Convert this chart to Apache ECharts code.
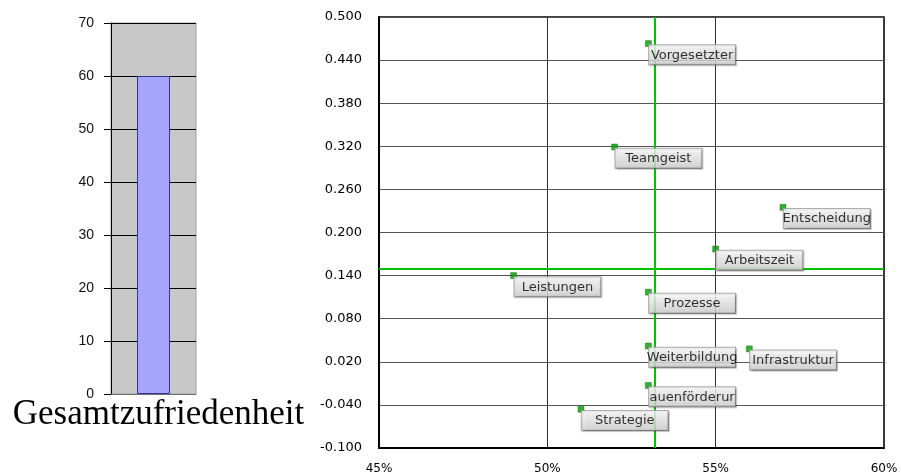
<!DOCTYPE html>
<html>
<head>
<meta charset="utf-8">
<script src="https://cdn.jsdelivr.net/npm/echarts@6/dist/echarts.min.js"></script>
<style>
  html, body { margin: 0; padding: 0; background: #fff; }
  #chart { width: 901px; height: 475px; }
</style>
</head>
<body>
<div id="chart"></div>
<script>
// Overall satisfaction (single bar)
const barCategories = ['Gesamtzufriedenheit'];
const barValues = [60];

// Portfolio: satisfaction share (%) vs. importance
const topicNames = ['Vorgesetzter', 'Teamgeist', 'Entscheidung', 'Arbeitszeit', 'Leistungen',
                    'Prozesse', 'Weiterbildung', 'Infrastruktur', 'Frauenförderung', 'Strategie'];
const topicLabels = ['Vorgesetzter', 'Teamgeist', 'Entscheidung', 'Arbeitszeit', 'Leistungen',
                     'Prozesse', 'Weiterbildung', 'Infrastruktur', 'auenförderur', 'Strategie'];
const topicShare = [53.0, 52.0, 57.0, 55.0, 49.0, 53.0, 53.0, 56.0, 53.0, 51.0];
const topicImportance = [0.463, 0.319, 0.235, 0.177, 0.140, 0.117, 0.042, 0.038, -0.013, -0.046];

// Reference cross (mean values)
const meanShare = [53.2];
const meanImportance = [0.147];

// Tick values of the importance axis
const importanceTicks = [-0.1, -0.04, 0.02, 0.08, 0.14, 0.2, 0.26, 0.32, 0.38, 0.44, 0.5];

const chart = echarts.init(document.getElementById('chart'));

const labelBg = new echarts.graphic.LinearGradient(0, 0, 0, 1, [
  { offset: 0, color: '#ffffff' },
  { offset: 1, color: '#d4d4d4' }
]);

chart.setOption({
  animation: false,
  backgroundColor: '#ffffff',
  grid: [
    { left: 111, top: 23, width: 85, height: 371, show: true,
      backgroundColor: '#c8c8c8', borderColor: '#a0a0a0', borderWidth: 1 },
    { left: 379, top: 17, width: 505, height: 431, show: true,
      backgroundColor: '#ffffff', borderColor: '#000000', borderWidth: 1.5 }
  ],
  xAxis: [
    {
      type: 'category', gridIndex: 0, data: barCategories,
      axisLine: { lineStyle: { color: '#707070', width: 1 } },
      axisTick: { show: false },
      axisLabel: { interval: 0, margin: 3, color: '#000', padding: [0, 0, 0, 10],
                   fontFamily: 'Liberation Serif', fontSize: 35 }
    },
    {
      type: 'value', gridIndex: 1, min: 45, max: 60, interval: 5,
      axisLine: { onZero: false, lineStyle: { color: '#000', width: 2 } },
      axisTick: { show: false },
      axisLabel: { formatter: '{value}%', margin: 15, color: '#000',
                   fontFamily: 'DejaVu Sans', fontSize: 12 },
      splitLine: { show: true, lineStyle: { color: '#333', width: 1 } }
    }
  ],
  yAxis: [
    {
      type: 'value', gridIndex: 0, min: 0, max: 70, interval: 10,
      axisLine: { show: true, lineStyle: { color: '#000', width: 1 } },
      axisTick: { show: true, length: 7, lineStyle: { color: '#000' } },
      axisLabel: { margin: 17, color: '#111', fontFamily: 'Liberation Sans', fontSize: 14 },
      splitLine: { show: true, lineStyle: { color: '#000', width: 1 } }
    },
    {
      type: 'value', gridIndex: 1, min: -0.1, max: 0.5,
      axisLine: { show: true, onZero: false, lineStyle: { color: '#000', width: 2 } },
      axisTick: { show: false, customValues: importanceTicks },
      axisLabel: { customValues: importanceTicks, margin: 17, color: '#000',
                   fontFamily: 'DejaVu Sans', fontSize: 13,
                   formatter: v => v.toFixed(3) },
      splitLine: { show: true, lineStyle: { color: '#555', width: 1 } }
    }
  ],
  series: [
    {
      type: 'bar', xAxisIndex: 0, yAxisIndex: 0,
      data: barValues, barWidth: 33,
      itemStyle: { color: '#a6a6ff', borderColor: '#333399', borderWidth: 1 }
    },
    {
      type: 'scatter', xAxisIndex: 1, yAxisIndex: 1,
      data: topicShare.map((s, i) => ({ name: topicNames[i], value: [s, topicImportance[i]] })),
      symbol: 'rect', symbolSize: 6, z: 5,
      itemStyle: { color: '#009a00', borderColor: '#006400', borderWidth: 0.5 },
      label: {
        show: true,
        formatter: p => topicLabels[p.dataIndex],
        position: [47, 5],
        align: 'center', verticalAlign: 'top',
        width: 86, overflow: 'none',
        fontFamily: 'DejaVu Sans', fontSize: 13, color: '#000', lineHeight: 14,
        padding: [3, 0, 2, 0],
        backgroundColor: labelBg,
        borderColor: '#9a9a9a', borderWidth: 1,
        shadowColor: 'rgba(0,0,0,0.3)', shadowOffsetX: 1, shadowOffsetY: 1, shadowBlur: 1
      },
      markLine: {
        silent: true, symbol: 'none', z: 3,
        label: { show: false },
        lineStyle: { color: '#00c000', width: 2, type: 'solid' },
        data: [{ xAxis: meanShare[0] }, { yAxis: meanImportance[0] }]
      }
    }
  ]
});
</script>
</body>
</html>
